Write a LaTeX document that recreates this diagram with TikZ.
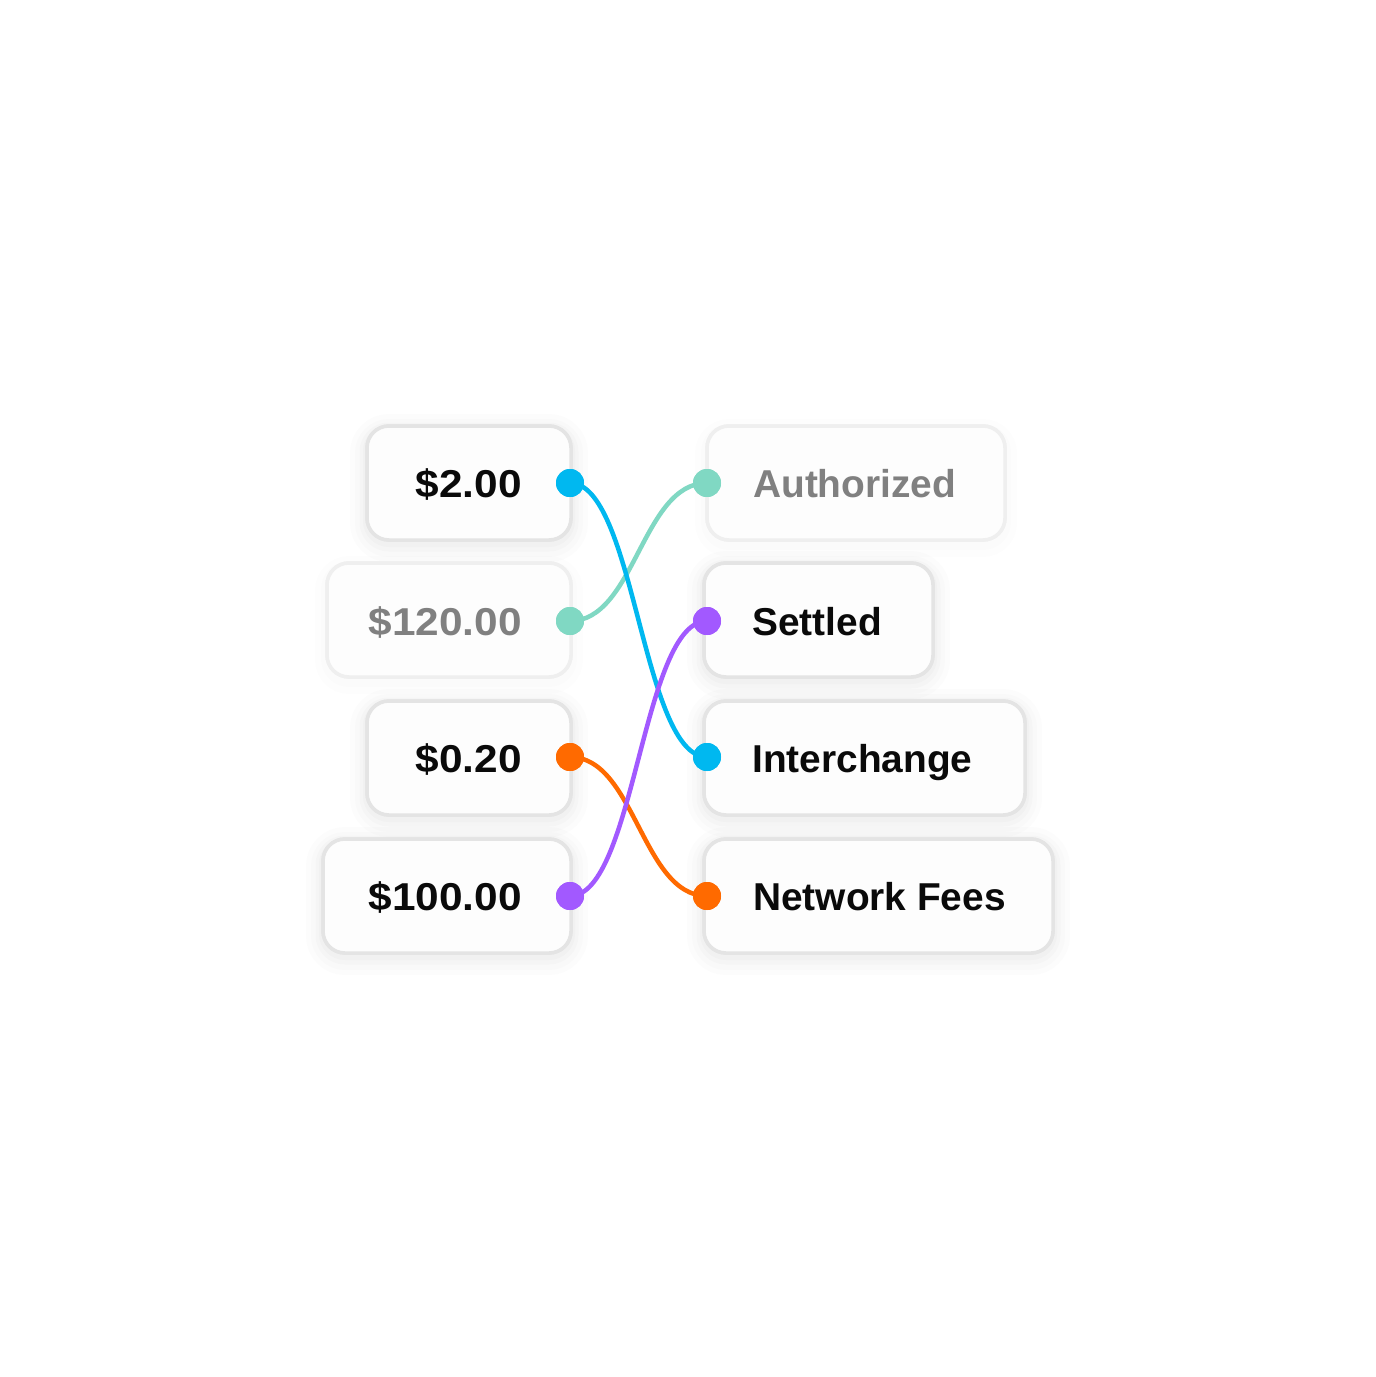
\documentclass[tikz,border=0pt]{standalone}
\usepackage{fontspec}
\setmainfont{Liberation Sans}
\definecolor{cblue}{HTML}{00B8F0}
\definecolor{cteal}{HTML}{80D8C3}
\definecolor{corange}{HTML}{FF6A00}
\definecolor{cpurple}{HTML}{A259FF}
\definecolor{bordr}{HTML}{E4E4E4}
\definecolor{bordrlight}{HTML}{EFEFEF}
\definecolor{boxfill}{HTML}{FDFDFD}
\definecolor{txtdark}{HTML}{0A0A0A}
\definecolor{txtgrey}{HTML}{808080}
\newcommand{\widen}[1]{\scalebox{1.09}[1]{#1}}
\tikzset{
  halo/.style={
    preaction={draw=black, draw opacity=0.010, line width=34bp, transform canvas={yshift=-5bp}},
    preaction={draw=black, draw opacity=0.012, line width=24bp, transform canvas={yshift=-5bp}},
    preaction={draw=black, draw opacity=0.014, line width=15bp, transform canvas={yshift=-4bp}},
    preaction={draw=black, draw opacity=0.016, line width=8bp, transform canvas={yshift=-3bp}}},
  cardbody/.style={line width=3.5bp, fill=boxfill, rounded corners=22bp,
    inner sep=0pt, minimum height=114bp},
  card/.style={cardbody, draw=bordr, halo},
  cardlight/.style={cardbody, draw=bordrlight,
    preaction={draw=black, draw opacity=0.008, line width=24bp, transform canvas={yshift=-5bp}},
    preaction={draw=black, draw opacity=0.008, line width=12bp, transform canvas={yshift=-4bp}}},
  lbl/.style={font=\fontsize{39}{45}\selectfont\bfseries, text=txtdark, inner sep=0pt},
  lblgrey/.style={lbl, text=txtgrey},
  dot/.style={circle, inner sep=0pt, minimum size=28bp},
  wire/.style={line width=4.5bp},
}
\begin{document}
\begin{tikzpicture}[x=1bp, y=-1bp]
\useasboundingbox[fill=white] (0,0) rectangle (1376,1377);
% left cards
\node[card, minimum width=204bp] (b1) at (469,483) {};
\node[cardlight, minimum width=244bp] (b2) at (449,620) {};
\node[card, minimum width=204bp] (b3) at (469,758) {};
\node[card, minimum width=248bp] (b4) at (447,896) {};
% right cards
\node[cardlight, minimum width=298bp] (r1) at (856,483) {};
\node[card, minimum width=229bp] (r2) at (818.5,620) {};
\node[card, minimum width=321bp] (r3) at (864.5,758) {};
\node[card, minimum width=349bp] (r4) at (878.5,896) {};
% redraw card bodies over neighbouring halos
\foreach \n/\w/\c in {b1/204/bordr,b2/244/bordrlight,b3/204/bordr,b4/248/bordr,r1/298/bordrlight,r2/229/bordr,r3/321/bordr,r4/349/bordr}
  \node[cardbody, draw=\c, minimum width=\w bp] (\n top) at (\n.center) {};
% labels
\node[lbl, anchor=base east] (t1) at (522,497) {\widen{\$2.00}};
\node[lblgrey, anchor=base east] (t2) at (522,635) {\widen{\$120.00}};
\node[lbl, anchor=base east] (t3) at (522,772) {\widen{\$0.20}};
\node[lbl, anchor=base east] (t4) at (522,910) {\widen{\$100.00}};
\node[lblgrey, anchor=base west] (s1) at (753,497) {Authorized};
\node[lbl, anchor=base west] (s2) at (752,635) {Settled};
\node[lbl, anchor=base west] (s3) at (752,772) {Interchange};
\node[lbl, anchor=base west] (s4) at (753,910) {Network Fees};
% dots
\node[dot, fill=cblue] (d1) at (570,483) {};
\node[dot, fill=cteal] (d2) at (570,621) {};
\node[dot, fill=corange] (d3) at (570,757) {};
\node[dot, fill=cpurple] (d4) at (570,896) {};
\node[dot, fill=cteal] (e1) at (707,483) {};
\node[dot, fill=cpurple] (e2) at (707,621) {};
\node[dot, fill=cblue] (e3) at (707,757) {};
\node[dot, fill=corange] (e4) at (707,896) {};
% wires
\draw[wire, cteal] (d2.center) .. controls +(65,0) and +(-65,0) .. (e1.center);
\draw[wire, corange] (d3.center) .. controls +(65,0) and +(-65,0) .. (e4.center);
\draw[wire, cblue] (d1.center) .. controls +(65,0) and +(-65,0) .. (e3.center);
\draw[wire, cpurple] (d4.center) .. controls +(65,0) and +(-65,0) .. (e2.center);
% redraw dots on top
\foreach \n/\c in {d1/cblue,d2/cteal,d3/corange,d4/cpurple,e1/cteal,e2/cpurple,e3/cblue,e4/corange}
  \fill[\c] (\n.center) circle (14bp);
\end{tikzpicture}
\end{document}
